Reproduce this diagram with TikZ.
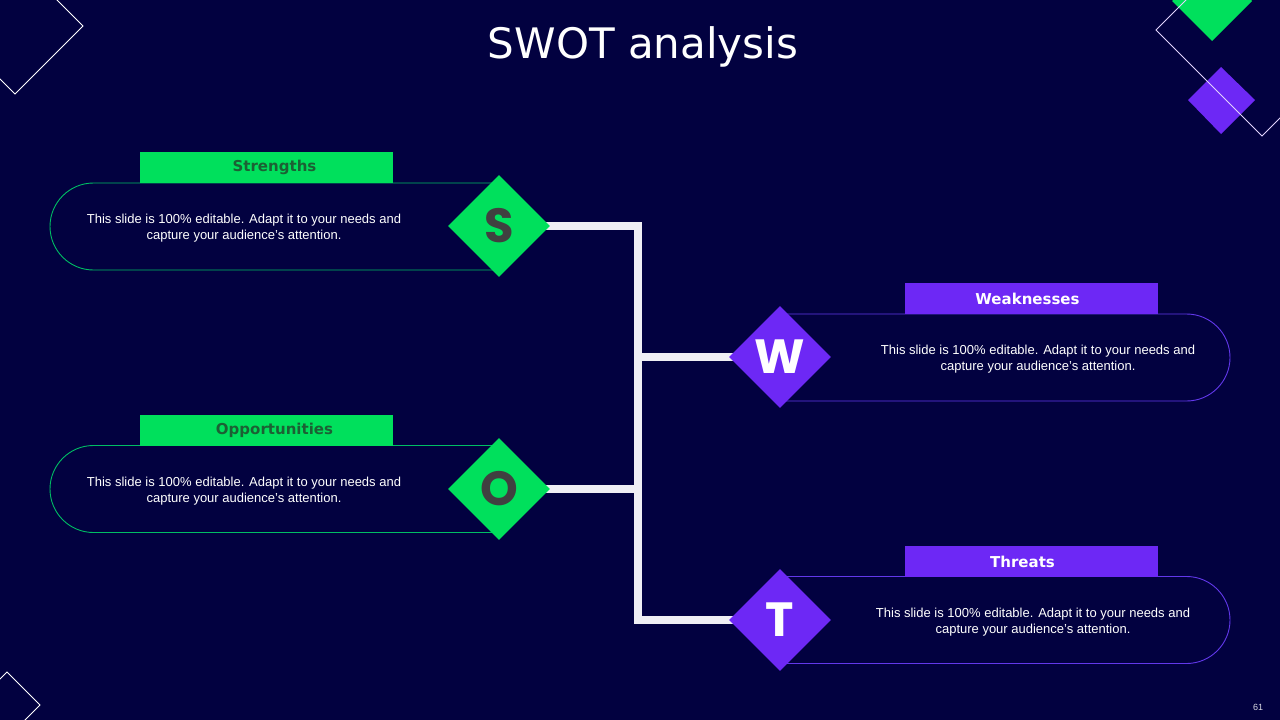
\documentclass[tikz,border=0pt]{standalone}
\usepackage{fontspec}
\setmainfont{Liberation Sans}
\newfontfamily\dv{DejaVu Sans}
\newfontfamily\pop{Poppins}
\usetikzlibrary{shapes.geometric,shapes.misc}
\definecolor{bgc}{RGB}{2,1,64}
\definecolor{sgreen}{RGB}{0,224,92}
\definecolor{glin}{RGB}{0,190,100}
\definecolor{spurple}{RGB}{109,40,245}
\definecolor{plin}{RGB}{98,56,235}
\definecolor{linkc}{RGB}{239,239,244}
\definecolor{dgreen}{RGB}{28,96,52}
\definecolor{dgray}{RGB}{64,64,64}
\pgfdeclarelayer{bg}
\pgfdeclarelayer{links}
\pgfsetlayers{bg,links,main}
\tikzset{
  pillL/.style={draw=glin, line width=0.9pt, rounded rectangle, rounded rectangle right arc=none, minimum width=453pt, minimum height=87pt, inner sep=0pt},
  pillR/.style={draw=plin, line width=0.9pt, rounded rectangle, rounded rectangle left arc=none, minimum width=451pt, minimum height=87pt, inner sep=0pt},
  headG/.style={fill=sgreen, minimum width=253pt, minimum height=31pt, inner sep=0pt, text=dgreen, font=\dv\bfseries\fontsize{15}{17}\selectfont},
  headP/.style={fill=spurple, minimum width=253pt, minimum height=31pt, inner sep=0pt, text=white, font=\dv\bfseries\fontsize{15}{17}\selectfont},
  body/.style={text=white, align=center, font=\fontsize{13}{16}\selectfont, inner sep=0pt},
  diaG/.style={diamond, aspect=1, fill=sgreen, minimum width=102pt, minimum height=102pt, inner sep=0pt, text=dgray, font=\pop\bfseries\fontsize{48}{48}\selectfont},
  diaP/.style={diamond, aspect=1, fill=spurple, minimum width=102pt, minimum height=102pt, inner sep=0pt, text=white, font=\pop\bfseries\fontsize{48}{48}\selectfont},
  link/.style={draw=linkc, line width=8pt, line join=miter},
  deco/.style={draw=white, line width=1pt}
}
\begin{document}
\begin{tikzpicture}[x=1pt,y=-1pt]
\begin{pgfonlayer}{bg}
\fill[bgc] (0,0) rectangle (1280,720);
\useasboundingbox (0,0) rectangle (1280,720);
\begin{scope}
\clip (0,0) rectangle (1280,720);
\draw[deco] (15,-42) -- (83,26) -- (15,94) -- (-53,26) -- cycle;
\fill[sgreen] (1212,-39) -- (1252,1) -- (1212,41) -- (1172,1) -- cycle;
\fill[spurple] (1221,67) -- (1255,100) -- (1221,134) -- (1188,100) -- cycle;
\draw[deco, draw=white!80!spurple] (1262,-76) -- (1368,30) -- (1262,136) -- (1156,30) -- cycle;
\draw[deco] (7,672) -- (40,705) -- (7,738) -- (-26,705) -- cycle;
\end{scope}
\node[pillL] (sp) at (276.5,226.5) {};
\node[pillL] (op) at (276.5,489) {};
\node[pillR] (wp) at (1004.5,357.5) {};
\node[pillR] (tp) at (1004.5,620) {};
\node[headG] (sh) at (266.5,167.5) {\hspace*{16pt}Strengths};
\node[headG] (oh) at (266.5,430) {\hspace*{16pt}Opportunities};
\node[headP] (wh) at (1031.5,298.5) {Weaknesses\hspace*{8pt}};
\node[headP] (th) at (1031.5,561.5) {Threats\hspace*{18pt}};
\end{pgfonlayer}

\node[text=white, font=\dv\fontsize{42}{48}\selectfont, inner sep=0pt] (title) at (643,47) {SWOT analysis};

\node[body] (st) at (244,228) {This slide is 100\% editable. Adapt it to your needs and\\capture your audience's attention.};
\node[body] (ot) at (244,491) {This slide is 100\% editable. Adapt it to your needs and\\capture your audience's attention.};
\node[body] (wt) at (1038,359) {This slide is 100\% editable. Adapt it to your needs and\\capture your audience's attention.};
\node[body] (tt) at (1033,622) {This slide is 100\% editable. Adapt it to your needs and\\capture your audience's attention.};

\node[diaG] (S) at (499,226) {S};
\node[diaG] (O) at (499,489) {O};
\node[diaP] (W) at (780,357) {W};
\node[diaP] (T) at (780,620) {T};

\coordinate (top) at (638,226);
\coordinate (bot) at (638,620);
\coordinate (mw) at (638,357);
\coordinate (mo) at (638,489);
\begin{pgfonlayer}{links}
\draw[link] (S.center) -- (top) -- (bot) -- (T.center);
\draw[link] (O.center) -- (mo);
\draw[link] (mw) -- (W.center);
\end{pgfonlayer}

\node[text=white!85!bgc, font=\fontsize{9}{10}\selectfont, inner sep=0pt] (pg) at (1258,707) {61};
\end{tikzpicture}
\end{document}
